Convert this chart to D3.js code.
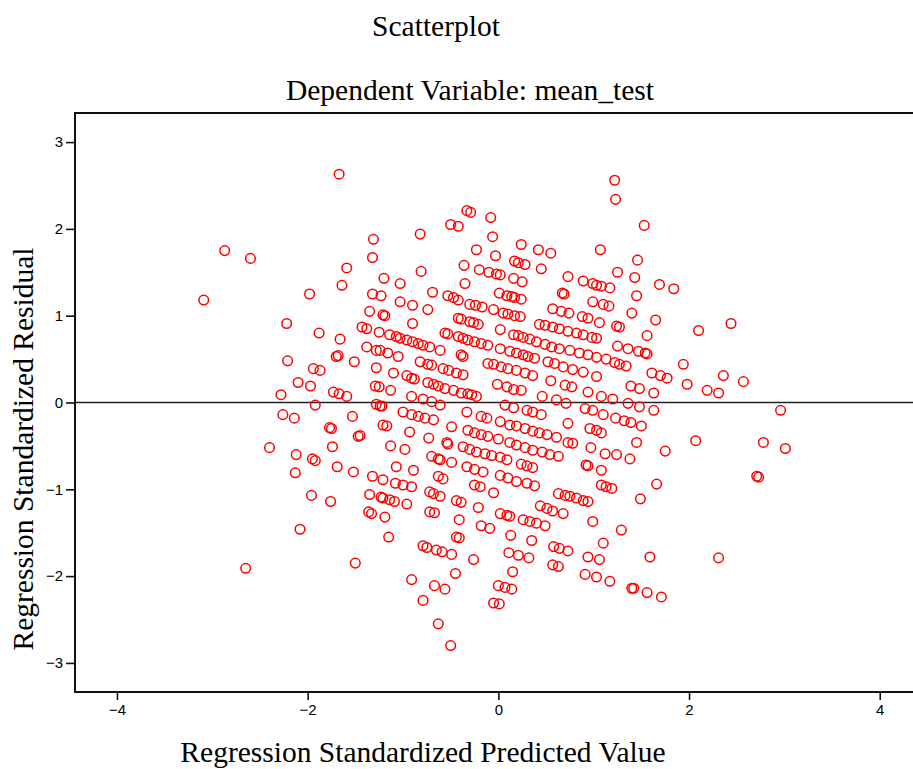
<!DOCTYPE html>
<html>
<head>
<meta charset="utf-8">
<script src="https://cdn.jsdelivr.net/npm/d3@7"></script>
<style>
  body { margin: 0; background: #fff; }
  #root { width: 913px; height: 769px; }
</style>
</head>
<body>
<div id="root"></div>
<script>
'use strict';

// standardized predicted value (x) and standardized residual (y)
const predicted = [
  -1.67, -2.87, -2.60, -1.31, -1.32, -1.59, -1.20, -1.64, -3.09, -1.98, -1.32, -1.23, -1.35, -1.21, -1.19, -2.22, -1.03, -1.03,
  -0.33, -0.29, -0.08, -0.50, -0.42, -0.82, -0.06, -0.23, -0.03, 0.24, 0.42, 0.55, 1.07, -0.81, -0.36, 0.17, 0.21, 0.28,
  -0.20, -0.10, -0.02, 0.02, 0.45, 0.16, 0.25, -0.35, 0.73, 0.89, 0.99, 1.03, 1.08, 1.17, -0.69, 0.01, 0.09, 0.14, 0.17, 0.24,
  0.67, 0.69, -0.53, -0.47, -0.42, -0.90, -0.74, -0.30, -0.24, -0.17, -0.05, 0.05, 0.10, 0.17, 0.23, 0.99, 1.10, 1.16,
  0.57, 0.66, 0.74, 0.88, 0.94, 1.06, -0.90, -0.42, -0.39, -0.30, -0.26, -0.21,
  1.22, 1.23, 1.53, 1.46, 1.25, 1.43, 1.69, 1.84, 1.45, 1.40, 1.65, 2.44, 1.24, 1.27, 2.10,
  -1.88, -1.66, -1.43, -1.38, -1.25, -1.14, -1.07, -2.21, -1.70, -1.68, -1.51, -1.38, -1.28, -1.24, -1.16, -1.05,
  -1.94, -1.87, -1.28, -1.10, -2.10, -1.97, -2.28, -1.73, -1.67, -1.59, -1.29, -1.25, -1.13, -1.92, -1.28, -1.24, -1.22,
  -2.26, -2.14, -1.53, -1.77, -1.75, -1.21, -1.17, -1.47, -1.45, -2.40, -1.74, -1.13, -2.12, -1.95, -1.92, -1.07, -2.13,
  -1.69, -1.52, -1.32, -1.21, -1.08,
  0.02, 0.43, 0.49, 0.57, 0.64, 0.73, 0.82, 0.89, 0.98, 1.03, -1.03, -0.96, -0.90, -0.84, -0.79, -0.72, -0.61, -0.56, -0.53,
  -0.42, -0.37, -0.32, -0.25, -0.18, -0.11, 0.02, 0.16, 0.21, 0.26, 0.33, 0.40, 0.49, 0.12, 0.19, 0.26, 0.31, 0.38,
  0.56, 0.64, 0.75, 0.85, 0.94, 1.03, 1.13, -0.82, -0.74, -0.70, -0.39, -0.37, -0.11, -0.05, 0.03, 0.10, 0.19, 0.28, 0.36,
  0.52, 0.59, 0.68, 0.78, 0.89, 1.03, -0.96, -0.91, -0.88, -0.58, -0.52, -0.44, -0.37,
  -0.74, -0.68, -0.63, -0.56, -0.47, -0.39, -0.32, -0.28, -0.23, -0.01, 0.09, 0.16, 0.24, 0.55, 0.70, 0.77, 0.94, 1.08,
  -0.91, -0.79, -0.70, -0.61, 0.46, 0.61, 0.71, 0.07, 0.16, 0.30, 0.36, 0.45, 0.91, 0.99, 1.10,
  -1.00, -0.91, -0.84, -0.77, -0.68, -0.33, -0.18, -0.12, -0.49, 0.02, 0.12, 0.19, 0.28, 0.36, 0.43, 0.51, 0.61, 0.73,
  0.96, 1.03, 1.08, -0.93, -0.73, -0.32, -0.25, -0.18, -0.11, 0.00, -0.54, -0.53, 0.12, 0.19, 0.28, 0.36, 0.46, 0.54, 0.63,
  0.73, 0.78, 0.97, -0.98, -0.37, -0.30, -0.23, -0.14, -0.07, 0.02, 0.09, -0.70, -0.63, -0.61, -0.49, 1.12, -0.89,
  -0.33, -0.25, -0.16, 0.24, 0.30, 0.36, 0.92, 0.94, 1.08, -0.63, -0.58, 0.02, 0.10, 0.19, -1.00, -0.91, -0.25, -0.19,
  0.30, 0.38, 1.08, 1.13,
  1.56, 1.25, 1.36, 1.47, 1.54, 1.56, 1.22, 1.27, 1.34, 1.94, 1.61, 1.70, 1.77, 2.36, 2.57, 1.98, 2.19, 2.31, 1.39, 1.48,
  1.63, 1.20, 1.36, 1.48, 1.63, 2.96, 1.23, 1.32, 1.39, 1.50, 1.45, 2.07, 2.78, 3.01, 1.75, 1.24, 1.38, 2.71, 2.73, 1.66, 1.19,
  -1.96, -1.76, -1.35, -1.23, -1.21, -1.14, -1.09, -1.36, -1.33, -1.19, -2.08, -1.15, -1.50, -2.65,
  -0.72, -0.68, -0.61, -0.05, -0.96, -0.72, -0.67, -0.44, -0.39, -0.21, 0.63, 0.70, 0.75, 0.82, 0.89, 0.94,
  0.44, 0.51, 0.57, 0.68, 0.02, 0.09, 0.12, 0.26, 0.33, 0.40, 0.49, -0.41, -0.18, -0.09, 0.99, 0.13, 0.35, -0.44, -0.41,
  1.10, -0.79, -0.75, -0.65, -0.59, -0.49, -0.26, 0.11, 0.21, 0.32, 0.58, 0.64, 0.73, 0.57, 0.63, 0.94, 1.06, 0.91, 1.03,
  1.17, -0.45, 0.15, -0.91, -0.67, -0.56, 0.00, 0.07, 0.14, -0.79, -0.05, 0.01, -0.63, -0.50,
  1.49, 1.29, 1.59, 2.31, 1.40, 1.42, 1.56, 1.71
];

const residual = [
  2.63, 1.75, 1.66, 1.88, 1.67, 1.55, 1.43, 1.35, 1.18, 1.25, 1.25, 1.23, 1.05, 1.01, 1.00, 0.91, 1.37, 1.16,
  2.21, 2.19, 2.13, 2.05, 2.03, 1.94, 1.91, 1.76, 1.69, 1.82, 1.76, 1.72, 1.76, 1.51, 1.58, 1.63, 1.61, 1.59,
  1.53, 1.50, 1.48, 1.47, 1.54, 1.43, 1.39, 1.37, 1.45, 1.40, 1.37, 1.35, 1.34, 1.32, 1.27, 1.26, 1.23, 1.22, 1.21, 1.19,
  1.26, 1.25, 1.23, 1.21, 1.18, 1.12, 1.07, 1.13, 1.12, 1.10, 1.07, 1.03, 1.02, 1.00, 0.99, 1.16, 1.13, 1.11,
  1.08, 1.05, 1.03, 0.99, 0.97, 0.92, 0.91, 0.97, 0.96, 0.93, 0.92, 0.90,
  2.56, 2.34, 2.04, 1.64, 1.50, 1.44, 1.36, 1.31, 1.23, 1.03, 0.95, 0.91, 0.88, 0.87, 0.83,
  0.80, 0.73, 0.87, 0.85, 0.81, 0.78, 0.76, 0.48, 0.53, 0.54, 0.47, 0.64, 0.60, 0.60, 0.57, 0.53,
  0.39, 0.37, 0.40, 0.34, 0.23, 0.19, 0.09, 0.12, 0.10, 0.07, 0.19, 0.18, 0.14, -0.03, -0.02, -0.04, -0.04,
  -0.14, -0.18, -0.16, -0.29, -0.30, -0.26, -0.27, -0.39, -0.38, -0.52, -0.51, -0.50, -0.60, -0.65, -0.67, -0.74, -0.81,
  -0.74, -0.80, -0.85, -0.89, -0.93,
  0.84, 0.90, 0.89, 0.87, 0.85, 0.82, 0.80, 0.78, 0.75, 0.74, 0.74, 0.72, 0.70, 0.68, 0.66, 0.64, 0.60, 0.80, 0.79,
  0.76, 0.74, 0.72, 0.70, 0.68, 0.66, 0.62, 0.78, 0.77, 0.75, 0.73, 0.70, 0.67, 0.59, 0.57, 0.55, 0.53, 0.51,
  0.64, 0.62, 0.60, 0.57, 0.55, 0.52, 0.50, 0.47, 0.44, 0.43, 0.55, 0.53, 0.45, 0.44, 0.41, 0.39, 0.37, 0.34, 0.31,
  0.47, 0.45, 0.41, 0.38, 0.35, 0.30, 0.31, 0.28, 0.27, 0.39, 0.37, 0.34, 0.32,
  0.23, 0.21, 0.19, 0.16, 0.14, 0.11, 0.10, 0.09, 0.07, 0.21, 0.18, 0.15, 0.14, 0.25, 0.20, 0.18, 0.12, 0.07,
  0.07, 0.04, 0.01, -0.03, 0.07, 0.03, -0.01, -0.03, -0.06, -0.09, -0.11, -0.14, -0.07, -0.09, -0.14,
  -0.11, -0.14, -0.16, -0.18, -0.20, -0.11, -0.16, -0.18, -0.28, -0.22, -0.26, -0.27, -0.30, -0.33, -0.35, -0.37, -0.40, -0.24,
  -0.30, -0.32, -0.35, -0.34, -0.41, -0.32, -0.35, -0.37, -0.39, -0.42, -0.46, -0.48, -0.46, -0.49, -0.52, -0.55, -0.57, -0.60, -0.62,
  -0.46, -0.47, -0.52, -0.54, -0.51, -0.54, -0.57, -0.59, -0.61, -0.63, -0.66, -0.62, -0.65, -0.66, -0.69, -0.59, -0.78,
  -0.74, -0.77, -0.80, -0.71, -0.73, -0.75, -0.72, -0.73, -0.78, -0.85, -0.88, -0.84, -0.87, -0.91, -0.95, -0.97, -0.95, -0.97,
  -0.93, -0.96, -0.95, -0.97,
  0.77, 0.65, 0.62, 0.59, 0.57, 0.56, 0.46, 0.44, 0.42, 0.44, 0.34, 0.31, 0.28, 0.31, 0.24, 0.21, 0.14, 0.11, 0.19, 0.16,
  0.11, 0.04, -0.01, -0.05, -0.09, -0.09, -0.18, -0.21, -0.23, -0.27, -0.46, -0.44, -0.46, -0.53, -0.56, -0.60, -0.65, -0.85, -0.86, -0.94, -0.99,
  -1.07, -1.14, -1.06, -1.09, -1.10, -1.12, -1.14, -1.26, -1.28, -1.32, -1.46, -1.55, -1.85, -1.91,
  -1.03, -1.05, -1.08, -1.04, -1.17, -1.26, -1.27, -1.13, -1.15, -1.21, -1.05, -1.07, -1.08, -1.10, -1.13, -1.14,
  -1.19, -1.22, -1.25, -1.28, -1.28, -1.30, -1.31, -1.35, -1.37, -1.39, -1.42, -1.35, -1.42, -1.45, -1.37, -1.53, -1.59, -1.55, -1.56,
  -1.62, -1.65, -1.67, -1.70, -1.72, -1.75, -1.81, -1.73, -1.76, -1.79, -1.66, -1.68, -1.71, -1.87, -1.89, -1.78, -1.81, -1.98, -2.01,
  -2.06, -1.97, -1.95, -2.04, -2.11, -2.15, -2.11, -2.13, -2.15, -2.28, -2.31, -2.32, -2.55, -2.80,
  -1.11, -1.47, -1.78, -1.79, -2.14, -2.14, -2.19, -2.24
];

const xTicks = [-4, -2, 0, 2, 4],
      yTicks = [-3, -2, -1, 0, 1, 2, 3];

const title    = 'Scatterplot',
      subtitle = 'Dependent Variable: mean_test',
      xLabel   = 'Regression Standardized Predicted Value',
      yLabel   = 'Regression Standardized Residual';

function drawScatter() {
  const    w = 913,
           h = 769,
        left = 75,
       right = 915,
         top = 113,
      bottom = 692,
       serif = '"Liberation Serif", "Times New Roman", serif',
        sans = '"Liberation Sans", Arial, sans-serif',

         svg = d3.select('#root')
                 .append('svg')
                 .attr('width', w)
                 .attr('height', h),

      xScale = d3.scaleLinear()
                 .domain([-4.44, 4.37])
                 .range([left, right]),

      yScale = d3.scaleLinear()
                 .domain([-3.335, 3.335])
                 .range([bottom, top]);

  const points = predicted.map((x, i) => [x, residual[i]]);

  // frame
  svg.append('rect')
     .attr('x', left)
     .attr('y', top)
     .attr('width', right - left)
     .attr('height', bottom - top)
     .attr('fill', 'none')
     .attr('stroke', '#111')
     .attr('stroke-width', 2);

  // zero reference line
  svg.append('line')
     .attr('x1', left)
     .attr('x2', right)
     .attr('y1', yScale(0))
     .attr('y2', yScale(0))
     .attr('stroke', '#222')
     .attr('stroke-width', 1.6);

  svg.append('g')
     .selectAll('circle')
     .data(points)
     .enter()
     .append('circle')
     .attr('cx', (d) => xScale(d[0]))
     .attr('cy', (d) => yScale(d[1]))
     .attr('r', 4.8)
     .attr('fill', 'none')
     .attr('stroke', '#ff0000')
     .attr('stroke-width', 1.5);

  const xAxis = d3.axisBottom(xScale)
                  .tickValues(xTicks)
                  .tickSize(8)
                  .tickPadding(4)
                  .tickFormat(d3.format('d')),
        yAxis = d3.axisLeft(yScale)
                  .tickValues(yTicks)
                  .tickSize(9)
                  .tickPadding(3)
                  .tickFormat(d3.format('d'));

  const gx = svg.append('g')
                .attr('transform', 'translate(0, ' + bottom + ')')
                .call(xAxis);
  const gy = svg.append('g')
                .attr('transform', 'translate(' + left + ', 0)')
                .call(yAxis);

  [gx, gy].forEach((g) => {
    g.select('.domain').remove();
    g.selectAll('.tick line')
     .attr('stroke', '#111')
     .attr('stroke-width', 1.6);
    g.selectAll('.tick text')
     .attr('fill', '#000')
     .style('font-family', sans)
     .style('font-size', '15px');
  });

  svg.append('text')
     .attr('x', 436)
     .attr('y', 36)
     .attr('text-anchor', 'middle')
     .style('font-family', serif)
     .style('font-size', '29.5px')
     .text(title);

  svg.append('text')
     .attr('x', 470)
     .attr('y', 100)
     .attr('text-anchor', 'middle')
     .style('font-family', serif)
     .style('font-size', '29.5px')
     .text(subtitle);

  svg.append('text')
     .attr('x', 423)
     .attr('y', 762)
     .attr('text-anchor', 'middle')
     .style('font-family', serif)
     .style('font-size', '29.5px')
     .text(xLabel);

  svg.append('text')
     .attr('transform', 'translate(33, 449) rotate(-90)')
     .attr('text-anchor', 'middle')
     .style('font-family', serif)
     .style('font-size', '29.5px')
     .text(yLabel);
}

drawScatter();
</script>
</body>
</html>
